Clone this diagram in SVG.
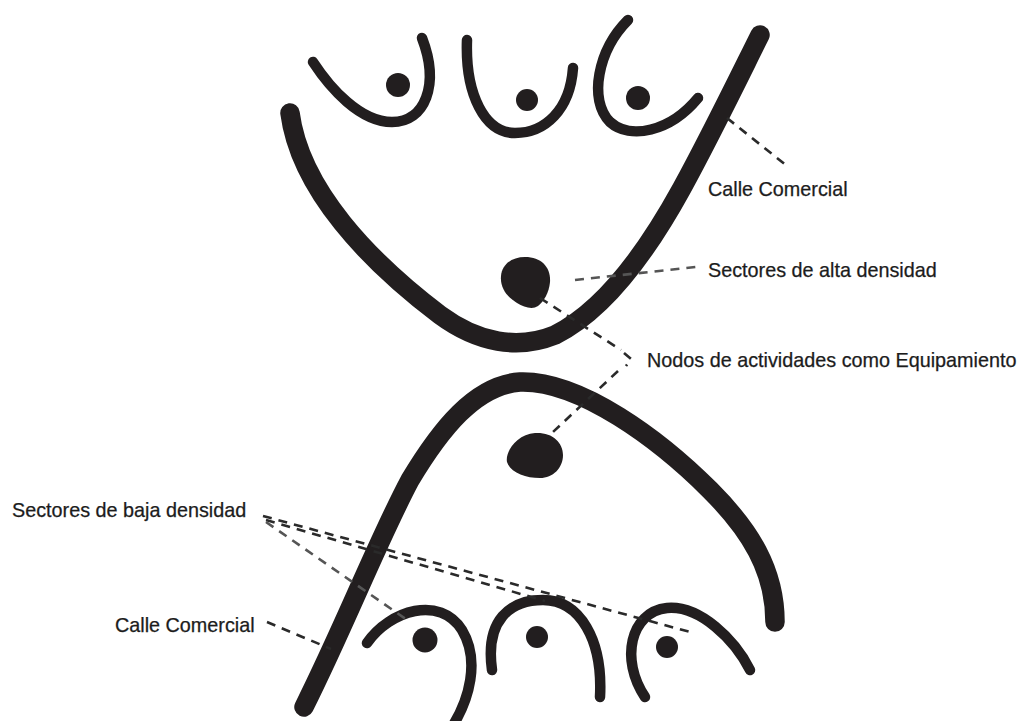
<svg xmlns="http://www.w3.org/2000/svg" width="1023" height="721" viewBox="0 0 1023 721">
  <style>
    .street { fill: none; stroke: #221e1f; stroke-width: 19.5; stroke-linecap: round; stroke-linejoin: round; }
    .sector { fill: none; stroke: #221e1f; stroke-width: 10.5; stroke-linecap: round; }
    .blob { fill: #221e1f; }
    .lead { fill: none; stroke: #2a2a2a; stroke-width: 2.6; stroke-dasharray: 9 7; }
    .lead.light { stroke: #555; }
    .lbl { font-family: "Liberation Sans", Arial, sans-serif; font-size: 19.8px; fill: #1c1c1c; stroke: #1c1c1c; stroke-width: 0.25; }
  </style>
  <rect width="1023" height="721" fill="#ffffff"/>

  <g id="calle-comercial-superior">
    <path class="street" d="M290,113 C300,190 370,262 440,315 C478,343 518,350 555,335 C605,310 648,250 682,188 C712,133 740,75 760,35"/>
  </g>
  <g id="calle-comercial-inferior">
    <path class="street" d="M304,707 C345,625 378,540 410,480 C440,430 475,385 520,382 C580,380 660,440 710,490 C750,530 775,570 775,622"/>
  </g>

  <g id="sector-alta-1">
    <path class="sector" d="M313,62 C330,88 360,122 392,122 C425,122 440,85 422,38"/>
    <circle class="blob" cx="398" cy="85" r="12"/>
  </g>
  <g id="sector-alta-2">
    <path class="sector" d="M467,40 C465,95 485,133 515,133 C545,133 570,110 573,68"/>
    <circle class="blob" cx="527" cy="100" r="11"/>
  </g>
  <g id="sector-alta-3">
    <path class="sector" d="M628,20 C598,50 588,100 610,122 C630,140 670,132 698,98"/>
    <circle class="blob" cx="638" cy="98" r="12"/>
  </g>

  <g id="nodo-superior">
    <path class="blob" d="M525,257 C542,257 551,268 550,282 C549,293 544,301 538,306 C532,310 524,307 517,303 C507,297 500,288 501,276 C502,264 512,257 525,257 Z"/>
  </g>
  <g id="nodo-inferior">
    <path class="blob" d="M535,433 C552,432 563,442 563,455 C563,468 553,478 540,478 C525,478 510,472 507,462 C505,452 517,434 535,433 Z"/>
  </g>

  <g id="sector-baja-1">
    <path class="sector" d="M367,643 C390,610 440,595 462,630 C480,660 470,700 450,730"/>
    <circle class="blob" cx="425" cy="640" r="12.5"/>
  </g>
  <g id="sector-baja-2">
    <path class="sector" d="M492,670 C485,620 510,600 543,600 C580,600 603,640 600,697"/>
    <circle class="blob" cx="537" cy="637" r="11"/>
  </g>
  <g id="sector-baja-3">
    <path class="sector" d="M645,697 C620,660 630,612 667,608 C700,605 735,640 750,670"/>
    <circle class="blob" cx="667" cy="647" r="11"/>
  </g>

  <g id="connectors">
    <path class="lead" d="M727,118 L787,166"/>
    <path class="lead light" d="M575,280 L696,267" stroke-dasharray="2 10 11 7"/>
    <path class="lead" d="M540,298 L621,350"/>
    <path class="lead" d="M624,353 L631,359 L626,366" stroke-dasharray="none"/>
    <path class="lead" d="M618,371 L553,432"/>
    <path class="lead" d="M263,516 L690,632"/>
    <path class="lead" d="M266,520 L545,601"/>
    <path class="lead light" d="M266,522 L410,622"/>
    <path class="lead" d="M267,622 L331,649"/>
  </g>

  <g id="labels">
    <text class="lbl" x="708" y="196">Calle Comercial</text>
    <text class="lbl" x="708" y="277">Sectores de alta densidad</text>
    <text class="lbl" x="647" y="367">Nodos de actividades como Equipamiento</text>
    <text class="lbl" x="12" y="517">Sectores de baja densidad</text>
    <text class="lbl" x="115" y="632">Calle Comercial</text>
  </g>
</svg>
